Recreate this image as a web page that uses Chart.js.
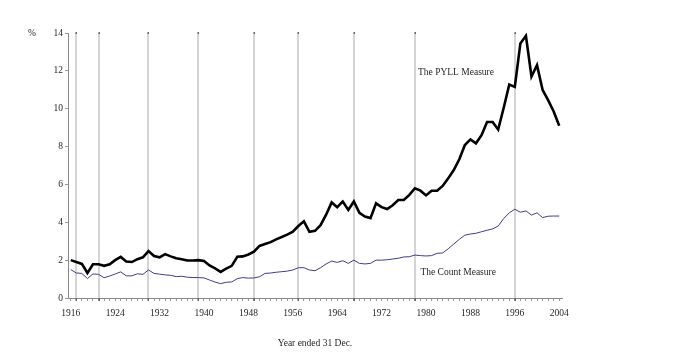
<!DOCTYPE html>
<html>
<head>
<meta charset="utf-8">
<title>PYLL and Count Measure</title>
<script src="https://cdn.jsdelivr.net/npm/chart.js@4.4.0/dist/chart.umd.min.js"></script>
<style>
  html,body{margin:0;padding:0;background:#fff;}
  #wrap{width:688px;height:352px;}
</style>
</head>
<body>
<div id="wrap"><canvas id="chart" width="688" height="352"></canvas></div>
<script>
/* ---------------- Data ---------------- */
const years = [];
for(let yr=1916; yr<=2004; yr++) years.push(yr);

const pyllValues = [
    2.0, 1.9, 1.8, 1.32, 1.78, 1.78, 1.7, 1.78, 2.0, 2.17,      // 1916-1925
    1.93, 1.9, 2.05, 2.15, 2.48, 2.22, 2.15, 2.32, 2.2, 2.1,     // 1926-1935
    2.05, 1.98, 1.98, 2.0, 1.95, 1.72, 1.56, 1.38, 1.55, 1.7,    // 1936-1945
    2.18, 2.2, 2.3, 2.45, 2.75, 2.85, 2.95, 3.1, 3.22, 3.35,     // 1946-1955
    3.5, 3.8, 4.05, 3.5, 3.55, 3.85, 4.4, 5.05, 4.8, 5.1,        // 1956-1965
    4.65, 5.1, 4.5, 4.3, 4.22, 5.0, 4.8, 4.7, 4.9, 5.18,         // 1966-1975
    5.18, 5.45, 5.8, 5.67, 5.42, 5.67, 5.67, 5.92, 6.32, 6.76,   // 1976-1985
    7.33, 8.08, 8.38, 8.17, 8.6, 9.3, 9.3, 8.9, 10.05, 11.28,    // 1986-1995
    11.15, 13.45, 13.85, 11.7, 12.3, 11.0, 10.45, 9.85, 9.1      // 1996-2004
];

const countValues = [
    1.5, 1.32, 1.3, 1.03, 1.27, 1.25, 1.07, 1.16, 1.27, 1.38,    // 1916-1925
    1.17, 1.17, 1.28, 1.25, 1.48, 1.3, 1.26, 1.22, 1.2, 1.13,    // 1926-1935
    1.15, 1.1, 1.08, 1.08, 1.06, 0.95, 0.84, 0.76, 0.83, 0.85,   // 1936-1945
    1.02, 1.08, 1.05, 1.06, 1.12, 1.3, 1.32, 1.36, 1.39, 1.42,   // 1946-1955
    1.48, 1.6, 1.6, 1.48, 1.44, 1.6, 1.8, 1.95, 1.88, 1.97,      // 1956-1965
    1.83, 2.0, 1.83, 1.8, 1.83, 2.0, 2.0, 2.02, 2.06, 2.1,       // 1966-1975
    2.17, 2.18, 2.27, 2.24, 2.22, 2.24, 2.36, 2.38, 2.6, 2.85,   // 1976-1985
    3.1, 3.32, 3.38, 3.42, 3.5, 3.58, 3.65, 3.8, 4.2, 4.5,       // 1986-1995
    4.69, 4.53, 4.6, 4.38, 4.5, 4.25, 4.32, 4.33, 4.33           // 1996-2004
];

const markerYears = [1917, 1921, 1930, 1939, 1949, 1957, 1967, 1978, 1996];
const xTickLabels = [1916, 1924, 1932, 1940, 1948, 1956, 1964, 1972, 1980, 1988, 1996, 2004];
const yTickLabels = [0, 2, 4, 6, 8, 10, 12, 14];
const seriesNames = ['The PYLL Measure', 'The Count Measure'];
const xTitle = 'Year ended 31 Dec.';
const yUnit = '%';

// anchors for the in-plot series names (data units)
const pyllLabelAt = {x: 1985.4, y: 11.9};
const countLabelAt = {x: 1985.8, y: 1.37};

/* ---------------- Helpers ---------------- */
const serif = "'Liberation Serif', 'Times New Roman', serif";
const textColor = '#262626';

const markerLines = {
    id: 'markerLines',
    beforeDatasetsDraw(chart) {
        const {ctx, scales: {x, y}} = chart;
        const top = y.getPixelForValue(y.max);
        const bottom = y.getPixelForValue(y.min);
        ctx.save();
        markerYears.forEach(yr => {
            const px = Math.round(x.getPixelForValue(yr));
            ctx.strokeStyle = '#d4d4d4';
            ctx.lineWidth = 2;
            ctx.beginPath();
            ctx.moveTo(px, top);
            ctx.lineTo(px, bottom);
            ctx.stroke();
            ctx.fillStyle = '#666';
            ctx.fillRect(px - 0.5, top - 1, 1.5, 2);
            ctx.fillRect(px - 0.5, bottom, 1.5, 3);
        });
        ctx.restore();
    }
};

const textLabels = {
    id: 'textLabels',
    afterDraw(chart) {
        const {ctx, scales: {x, y}} = chart;
        ctx.save();
        ctx.fillStyle = textColor;
        ctx.font = `9.5px ${serif}`;
        ctx.textAlign = 'center';
        ctx.textBaseline = 'middle';
        ctx.fillText(seriesNames[0], x.getPixelForValue(pyllLabelAt.x), y.getPixelForValue(pyllLabelAt.y));
        ctx.fillText(seriesNames[1], x.getPixelForValue(countLabelAt.x), y.getPixelForValue(countLabelAt.y));
        ctx.fillText(yUnit, y.left + 32, y.getPixelForValue(y.max));
        ctx.restore();
    }
};

/* ---------------- Chart ---------------- */
new Chart(document.getElementById('chart'), {
    type: 'line',
    data: {
        datasets: [
            {
                label: seriesNames[0],
                data: years.map((yr, i) => ({x: yr, y: pyllValues[i]})),
                borderColor: '#000',
                borderWidth: 2.6,
                pointRadius: 0,
                tension: 0,
                fill: false
            },
            {
                label: seriesNames[1],
                data: years.map((yr, i) => ({x: yr, y: countValues[i]})),
                borderColor: '#3d3d8c',
                borderWidth: 1,
                pointRadius: 0,
                tension: 0,
                fill: false
            }
        ]
    },
    options: {
        responsive: false,
        animation: false,
        devicePixelRatio: 1,
        layout: {padding: {top: 33, right: 126, left: 0, bottom: 0}},
        plugins: {legend: {display: false}, tooltip: {enabled: false}},
        scales: {
            x: {
                type: 'linear',
                min: 1915.5,
                max: 2004.5,
                afterFit(s) { s.height = 54; },
                afterBuildTicks(s) { s.ticks = years.map(v => ({value: v})); },
                ticks: {
                    autoSkip: false,
                    maxRotation: 0,
                    padding: 7,
                    color: textColor,
                    font: {family: serif, size: 9.5},
                    callback: v => xTickLabels.includes(v) ? String(v) : ''
                },
                grid: {drawOnChartArea: false, drawTicks: true, tickLength: 3, color: '#9a9a9a'},
                border: {color: '#8a8a8a', width: 1},
                title: {
                    display: true,
                    text: xTitle,
                    color: textColor,
                    font: {family: serif, size: 9.5},
                    padding: {top: 0, bottom: 3}
                }
            },
            y: {
                min: 0,
                max: 14,
                afterFit(s) { s.width = 68; },
                afterBuildTicks(s) { s.ticks = yTickLabels.map(v => ({value: v})); },
                ticks: {padding: 2, color: textColor, font: {family: serif, size: 9.5}},
                grid: {drawOnChartArea: false, drawTicks: true, tickLength: 3, color: '#9a9a9a'},
                border: {color: '#8a8a8a', width: 1}
            }
        }
    },
    plugins: [markerLines, textLabels]
});
</script>
</body>
</html>
